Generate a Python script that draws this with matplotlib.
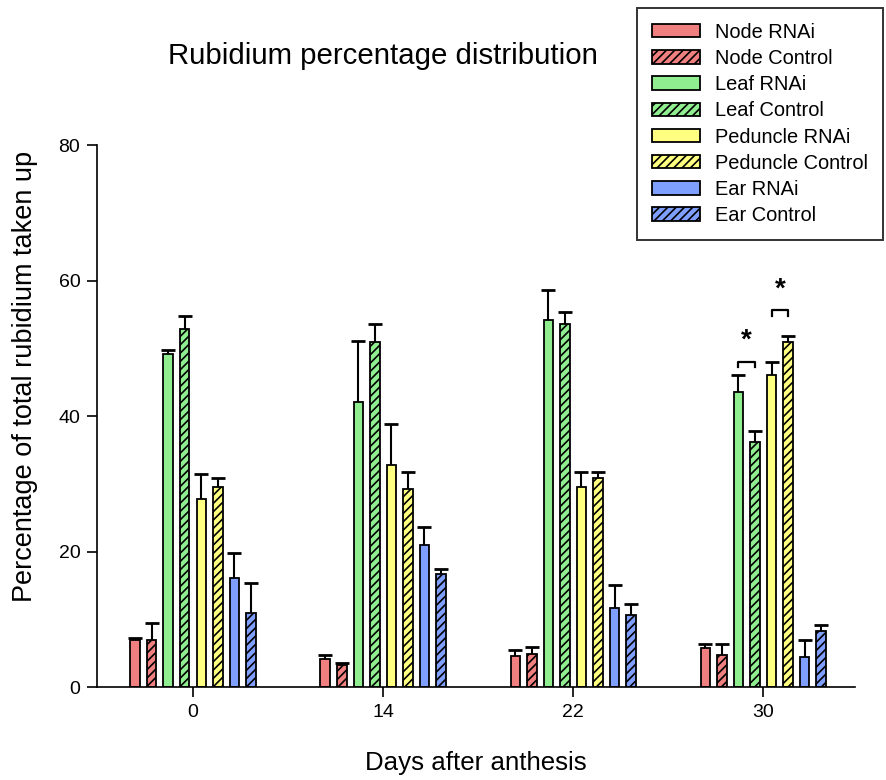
import matplotlib
matplotlib.use("Agg")
import matplotlib.pyplot as plt
import numpy as np

plt.rcParams["font.family"] = ["Liberation Sans", "DejaVu Sans"]
plt.rcParams["hatch.linewidth"] = 1.2

# ---------------------------------------------------------------------------
# data
# ---------------------------------------------------------------------------
days = ["0", "14", "22", "30"]
series = ["Node RNAi", "Node Control", "Leaf RNAi", "Leaf Control",
          "Peduncle RNAi", "Peduncle Control", "Ear RNAi", "Ear Control"]

node_rnai = [7.0, 4.1, 4.6, 5.7]
node_ctrl = [7.0, 3.2, 4.9, 4.7]
leaf_rnai = [49.2, 42.1, 54.2, 43.6]
leaf_ctrl = [52.8, 50.9, 53.6, 36.2]
ped_rnai = [27.7, 32.7, 29.5, 46.0]
ped_ctrl = [29.5, 29.3, 30.9, 50.9]
ear_rnai = [16.1, 21.0, 11.6, 4.4]
ear_ctrl = [10.9, 16.7, 10.6, 8.2]

node_rnai_err = [0.3, 0.6, 0.9, 0.6]
node_ctrl_err = [2.5, 0.4, 1.0, 1.6]
leaf_rnai_err = [0.5, 8.9, 4.4, 2.4]
leaf_ctrl_err = [2.0, 2.7, 1.8, 1.6]
ped_rnai_err = [3.8, 6.1, 2.3, 1.9]
ped_ctrl_err = [1.4, 2.5, 0.8, 0.9]
ear_rnai_err = [3.7, 2.6, 3.5, 2.5]
ear_ctrl_err = [4.4, 0.7, 1.6, 1.0]

values = [node_rnai, node_ctrl, leaf_rnai, leaf_ctrl,
          ped_rnai, ped_ctrl, ear_rnai, ear_ctrl]
errors = [node_rnai_err, node_ctrl_err, leaf_rnai_err, leaf_ctrl_err,
          ped_rnai_err, ped_ctrl_err, ear_rnai_err, ear_ctrl_err]

# significance brackets at day 30: (left series, right series, bracket height)
sig_pairs = [(2, 3, 48.0), (4, 5, 55.6)]

# ---------------------------------------------------------------------------
# style
# ---------------------------------------------------------------------------
colors = ["#F08080", "#F08080", "#90EE90", "#90EE90",
          "#FFFF80", "#FFFF80", "#7F9FFF", "#7F9FFF"]
hatches = [None, "////", None, "////", None, "////", None, "////"]

fig = plt.figure(figsize=(8.86, 7.8), dpi=100)
ax = fig.add_axes([0.1095, 0.1192, 0.855, 0.6949])

x = np.arange(len(days))
step = 0.087
width = 0.05
offsets = (np.arange(len(series)) - 3.5) * step

for i, name in enumerate(series):
    xs = x + offsets[i]
    ax.bar(xs, values[i], width=width, color=colors[i], edgecolor="black",
           linewidth=1.3, hatch=hatches[i], label=name, zorder=2)
    eb = ax.errorbar(xs, values[i], yerr=[np.zeros(len(days)), errors[i]],
                     fmt="none", ecolor="black", elinewidth=1.5, capsize=4.8,
                     capthick=2.0, zorder=3)
    # only keep the upper cap
    eb[1][0].set_visible(False)

# significance markers
for a, b, h in sig_pairs:
    xa = x[3] + offsets[a]
    xb = x[3] + offsets[b]
    ax.plot([xa, xa, xb, xb], [h - 0.8, h, h, h - 0.8], color="black",
            linewidth=1.6, zorder=3)
    ax.text((xa + xb) / 2, h + 1.2, "*", ha="center", va="bottom",
            fontsize=20, fontweight="bold")

ax.set_xlim(-0.505, 3.48)
ax.set_ylim(0, 80)
ax.set_xticks(x)
ax.set_xticklabels(days)
ax.set_yticks([0, 20, 40, 60, 80])
ax.spines["top"].set_visible(False)
ax.spines["right"].set_visible(False)
for s in ("left", "bottom"):
    ax.spines[s].set_linewidth(1.2)
ax.tick_params(axis="both", direction="out", length=7, width=1.2,
               labelsize=14, pad=5)

ax.set_xlabel("Days after anthesis", fontsize=18.6)
ax.xaxis.set_label_coords(0.5, -0.118)
fig.text(0.028, 0.518, "Percentage of total rubidium taken up",
         rotation=90, ha="center", va="center", fontsize=19.5)
fig.text(0.432, 0.928, "Rubidium percentage distribution", ha="center",
         va="center", fontsize=21.2)

leg = fig.legend(loc="upper left", bbox_to_anchor=(0.719, 0.99),
                 fontsize=14.4, frameon=True, fancybox=False,
                 edgecolor="black", handlelength=2.4, handleheight=0.65,
                 labelspacing=0.36, borderpad=0.75, handletextpad=0.75,
                 borderaxespad=0)
leg.get_frame().set_linewidth(1.4)

fig.savefig("out.png", dpi=100)
